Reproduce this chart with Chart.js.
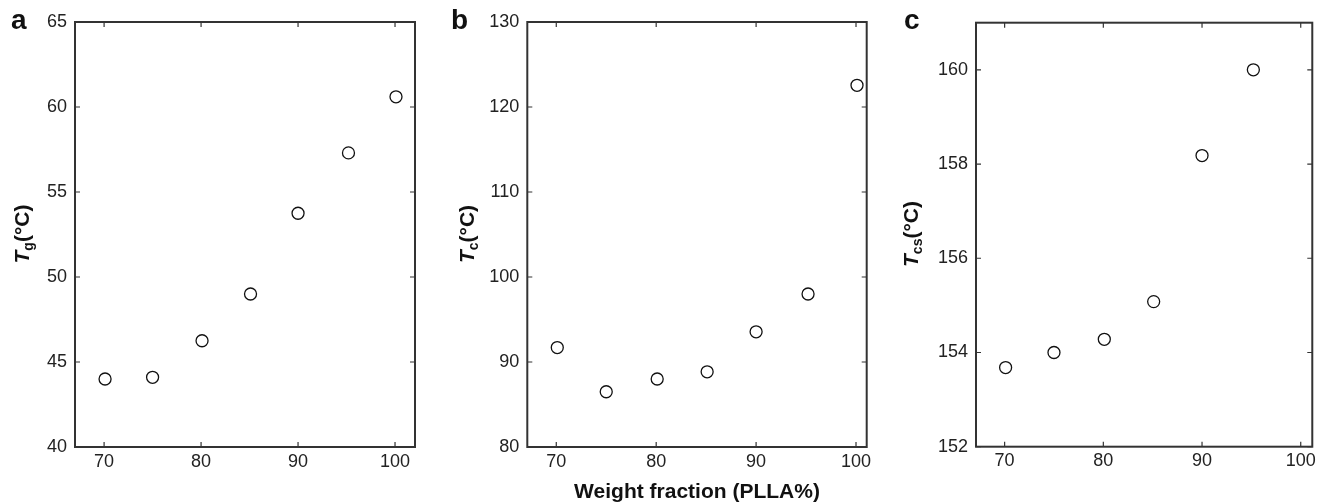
<!DOCTYPE html>
<html>
<head>
<meta charset="utf-8">
<script src="https://cdn.jsdelivr.net/npm/chart.js@4"></script>
<style>
  body { margin: 0; background: #fff; }
  #wrap { position: relative; width: 1320px; height: 502px; overflow: hidden; font-family: "Liberation Sans", Arial, sans-serif; color: #111; }
  canvas { position: absolute; top: 0; }
  .letter { position: absolute; font-weight: bold; font-size: 28px; line-height: 28px; }
  .ytitle { position: absolute; font-weight: bold; font-size: 21px; line-height: 24px; white-space: nowrap;
            transform: translate(-50%, -50%) rotate(-90deg); }
  .ytitle sub { font-size: 14px; vertical-align: -4px; }
</style>
</head>
<body>
<div id="wrap">
  <canvas id="chart-a" width="440" height="502" style="left:0"></canvas>
  <canvas id="chart-b" width="440" height="502" style="left:440px"></canvas>
  <canvas id="chart-c" width="440" height="502" style="left:880px"></canvas>
  <div class="letter" style="left:11px;top:6px">a</div>
  <div class="letter" style="left:451px;top:6px">b</div>
  <div class="letter" style="left:904px;top:6px">c</div>
  <div class="ytitle" style="left:25px;top:234px"><i>T</i><sub>g</sub>(°C)</div>
  <div class="ytitle" style="left:470px;top:234px"><i>T</i><sub>c</sub>(°C)</div>
  <div class="ytitle" style="left:914px;top:234px"><i>T</i><sub>cs</sub>(°C)</div>
</div>
<script>
// weight fraction of PLLA (%)
const weightFraction = [70.1, 75, 80.1, 85.1, 90, 95.2, 100.1];
const weightFractionCs = [70.1, 75, 80.1, 85.1, 90, 95.2];

// glass transition, crystallization, cold-crystallization (ºC)
const tgValues = [44.0, 44.1, 46.25, 49.0, 53.75, 57.3, 60.6];
const tcValues = [91.7, 86.5, 88.0, 88.85, 93.55, 98.0, 122.55];
const tcsValues = [153.68, 154.0, 154.28, 155.08, 158.18, 160.0];

const xTickValues = [70, 80, 90, 100];
const tgTicks = [40, 45, 50, 55, 60, 65];
const tcTicks = [80, 90, 100, 110, 120, 130];
const tcsTicks = [152, 154, 156, 158, 160];

const tickFont = { family: "'Liberation Sans', Arial, sans-serif", size: 18 };

// box round the plot with inward ticks on all sides
const framePlugin = {
  id: "frame",
  afterDatasetsDraw(chart) {
    const { ctx, chartArea: a, scales } = chart;
    const x = scales.x, y = scales.y;
    ctx.save();
    ctx.strokeStyle = "#333";
    ctx.lineWidth = 1.2;
    ctx.beginPath();
    x.ticks.forEach((t) => {
      const px = x.getPixelForValue(t.value);
      ctx.moveTo(px, a.bottom); ctx.lineTo(px, a.bottom - 5);
      ctx.moveTo(px, a.top); ctx.lineTo(px, a.top + 5);
    });
    y.ticks.forEach((t) => {
      const py = y.getPixelForValue(t.value);
      ctx.moveTo(a.left, py); ctx.lineTo(a.left + 5, py);
      ctx.moveTo(a.right, py); ctx.lineTo(a.right - 5, py);
    });
    ctx.stroke();
    ctx.lineWidth = 2;
    ctx.strokeRect(a.left, a.top, a.right - a.left, a.bottom - a.top);
    ctx.restore();
  },
};

function makeChart(id, xs, ys, cfg) {
  const ctx = document.getElementById(id).getContext("2d");
  return new Chart(ctx, {
    type: "scatter",
    data: {
      datasets: [{
        data: xs.map((v, i) => ({ x: v, y: ys[i] })),
        pointStyle: "circle",
        pointRadius: 6,
        pointHoverRadius: 6,
        pointBackgroundColor: "#fff",
        pointBorderColor: "#111",
        pointBorderWidth: 1.3,
        showLine: false,
      }],
    },
    options: {
      responsive: false,
      animation: false,
      events: [],
      layout: { padding: { left: 0, top: cfg.top, right: cfg.right, bottom: 0 } },
      plugins: { legend: { display: false }, tooltip: { enabled: false } },
      scales: {
        x: {
          type: "linear",
          min: cfg.xMin,
          max: cfg.xMax,
          afterBuildTicks: (s) => { s.ticks = xTickValues.map((v) => ({ value: v })); },
          afterFit: (s) => { s.height = cfg.xHeight; },
          grid: { drawOnChartArea: false, drawTicks: false },
          border: { display: false },
          ticks: { color: "#222", font: tickFont, padding: 4, maxRotation: 0 },
          title: cfg.xTitle
            ? { display: true, text: cfg.xTitle, color: "#111", padding: 0,
                font: { family: "'Liberation Sans', Arial, sans-serif", size: 21, weight: "bold", lineHeight: 0.9 } }
            : { display: false },
        },
        y: {
          type: "linear",
          min: cfg.yMin,
          max: cfg.yMax,
          afterBuildTicks: (s) => { s.ticks = cfg.yTicks.map((v) => ({ value: v })); },
          afterFit: (s) => { s.width = cfg.yWidth; },
          grid: { drawOnChartArea: false, drawTicks: false },
          border: { display: false },
          ticks: { color: "#222", font: tickFont, padding: 8 },
        },
      },
    },
    plugins: [framePlugin],
  });
}

window.onload = () => {
  makeChart("chart-a", weightFraction, tgValues, {
    xMin: 67.0, xMax: 102.06, yMin: 40, yMax: 65, yTicks: tgTicks,
    top: 22, right: 25, yWidth: 75, xHeight: 55,
  });
  makeChart("chart-b", weightFraction, tcValues, {
    xMin: 67.1, xMax: 101.07, yMin: 80, yMax: 130, yTicks: tcTicks,
    top: 22, right: 13.3, yWidth: 87.3, xHeight: 55,
    xTitle: "Weight fraction (PLLA%)",
  });
  makeChart("chart-c", weightFractionCs, tcsValues, {
    xMin: 67.1, xMax: 101.17, yMin: 152, yMax: 161, yTicks: tcsTicks,
    top: 22.7, right: 4, yWidth: 96, xHeight: 55.3,
  });
};
</script>
</body>
</html>
